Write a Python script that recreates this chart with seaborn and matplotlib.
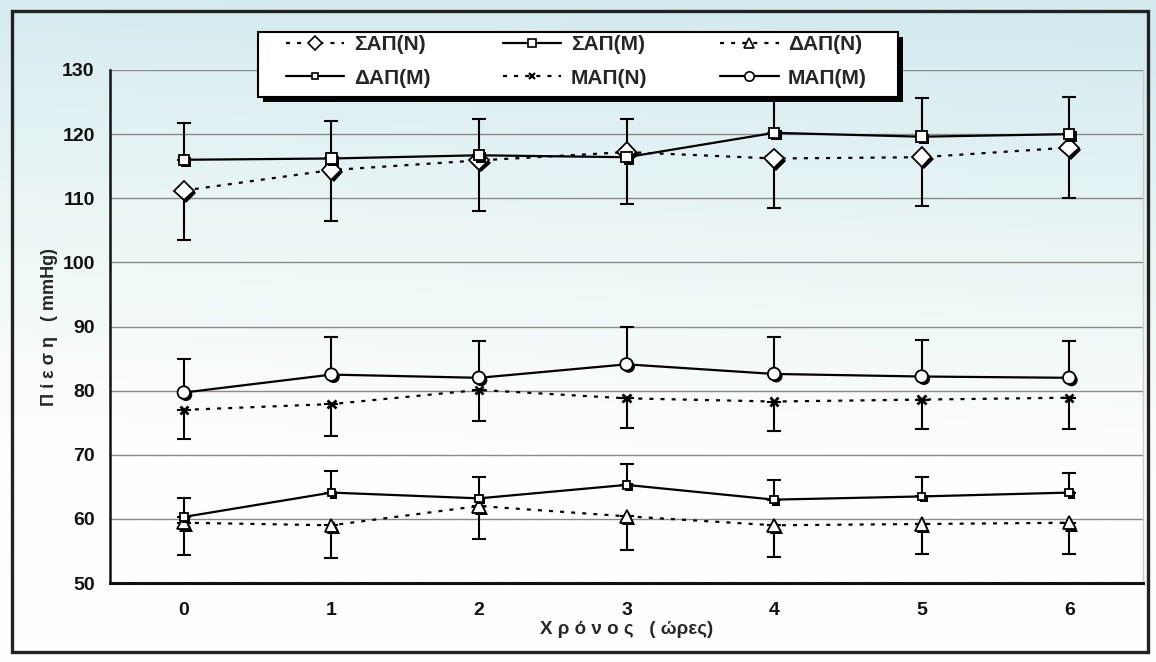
import numpy as np
import pandas as pd
import matplotlib
matplotlib.use("Agg")
import matplotlib.pyplot as plt
import matplotlib.patheffects as pe
from matplotlib.lines import Line2D
from matplotlib.patches import Rectangle
import seaborn as sns

# ---------------- data ----------------
hours = [0, 1, 2, 3, 4, 5, 6]
hour_labels = ["0", "1", "2", "3", "4", "5", "6"]

sap_n = [111.2, 114.4, 115.9, 117.2, 116.2, 116.4, 117.9]
sap_n_err = [7.7, 7.9, 7.9, 8.1, 7.7, 7.6, 7.9]      # lower side
sap_m = [116.0, 116.2, 116.7, 116.4, 120.2, 119.6, 120.0]
sap_m_err = [5.7, 5.8, 5.6, 5.9, 6.0, 6.1, 5.8]      # upper side

dap_n = [59.4, 59.0, 62.0, 60.4, 59.0, 59.2, 59.4]
dap_n_err = [5.0, 5.1, 5.2, 5.2, 5.0, 4.7, 4.9]      # lower side
dap_m = [60.3, 64.1, 63.2, 65.3, 63.0, 63.5, 64.1]
dap_m_err = [2.9, 3.3, 3.4, 3.3, 3.0, 3.1, 3.1]      # upper side

map_n = [77.0, 77.9, 80.1, 78.8, 78.3, 78.6, 78.9]
map_n_err = [4.5, 4.9, 4.9, 4.6, 4.6, 4.6, 4.9]      # lower side
map_m = [79.7, 82.5, 82.0, 84.1, 82.6, 82.2, 82.0]
map_m_err = [5.3, 5.8, 5.7, 5.9, 5.7, 5.7, 5.7]      # upper side

series_names = ["ΣΑΠ(N)", "ΣΑΠ(M)", "ΔΑΠ(N)", "ΔΑΠ(M)", "ΜΑΠ(N)", "ΜΑΠ(M)"]
y_ticks = [50, 60, 70, 80, 90, 100, 110, 120, 130]
x_title = "Χ ρ ό ν ο ς   ( ώρες)"
y_title = "Π ί ε σ η   ( mmHg)"

# ---------------- style ----------------
sns.set_theme(style="white")
plt.rcParams["font.family"] = ["Liberation Sans", "DejaVu Sans"]
plt.rcParams["font.weight"] = "bold"

DOT = (0, (1.8, 3.2))
styles = {
    "ΣΑΠ(N)": dict(ls=DOT, marker="D", ms=10, up=False),
    "ΣΑΠ(M)": dict(ls="-", marker="s", ms=7.5, up=True),
    "ΔΑΠ(N)": dict(ls=DOT, marker="^", ms=9.5, up=False),
    "ΔΑΠ(M)": dict(ls="-", marker="s", ms=5.5, up=True),
    "ΜΑΠ(N)": dict(ls=DOT, marker="x", ms=6, up=False),
    "ΜΑΠ(M)": dict(ls="-", marker="o", ms=9, up=True),
}
values = {
    "ΣΑΠ(N)": (sap_n, sap_n_err), "ΣΑΠ(M)": (sap_m, sap_m_err),
    "ΔΑΠ(N)": (dap_n, dap_n_err), "ΔΑΠ(M)": (dap_m, dap_m_err),
    "ΜΑΠ(N)": (map_n, map_n_err), "ΜΑΠ(M)": (map_m, map_m_err),
}

W, H = 1156, 662
fig = plt.figure(figsize=(W / 100, H / 100), dpi=100)

# background gradient
bg = fig.add_axes([0, 0, 1, 1], zorder=-10)
yy, xx = np.mgrid[0:1:300j, 0:1:300j]
top = np.array([210, 234, 237]) / 255.0
bot = np.array([253, 254, 254]) / 255.0
t = np.clip((yy - 0.04) * 1.45 + 0.12 * (1 - xx), 0, 1) ** 0.85
t = t[..., None]
grad = top * (1 - t) + bot * t
bg.imshow(grad, aspect="auto", extent=[0, 1, 0, 1], origin="upper")
bg.set_axis_off()

ax = fig.add_axes([110 / W, 1 - 583 / H, 1033 / W, 513 / H])
ax.set_facecolor("none")

shadow = [pe.SimplePatchShadow(offset=(1.6, -1.6), shadow_rgbFace="black", alpha=1.0), pe.Normal()]

for name in series_names:
    st = styles[name]
    vals, err = values[name]
    df = pd.DataFrame({"h": hours, "v": vals})
    sns.lineplot(data=df, x="h", y="v", ax=ax, color="black", linewidth=1.6,
                 linestyle=st["ls"], zorder=3, legend=False)
    zeros = [0] * len(err)
    yerr = [zeros, err] if st["up"] else [err, zeros]
    ax.errorbar(hours, vals, yerr=yerr, fmt="none", ecolor="black",
                elinewidth=1.5, capsize=4.8, capthick=1.5, zorder=2)
    sns.lineplot(data=df, x="h", y="v", ax=ax, color="black", linestyle="none",
                 marker=st["marker"], markersize=st["ms"],
                 markerfacecolor="white", markeredgecolor="black",
                 markeredgewidth=2.0 if st["marker"] == "x" else 1.3,
                 zorder=4, legend=False)
    ax.lines[-1].set_path_effects(shadow)

ax.set_xlim(-0.5, 6.5)
ax.set_ylim(50, 130)
ax.set_yticks(y_ticks)
ax.set_yticklabels([str(v) for v in y_ticks], fontsize=14, fontweight="bold")
ax.set_xticks(hours)
ax.set_xticklabels(hour_labels, fontsize=14, fontweight="bold")
ax.set_xticks(np.arange(-0.5, 7.0, 1.0), minor=True)
ax.tick_params(axis="x", which="major", length=0, pad=14, colors="#111")
ax.tick_params(axis="x", which="minor", length=3, width=1.5, direction="out", color="#222")
ax.tick_params(axis="y", which="major", length=5, width=1.3, direction="out", pad=6, colors="#111")
for y in y_ticks[1:]:
    ax.axhline(y, color="#8a8a8a", lw=1.0, zorder=1)

ax.spines["top"].set_visible(False)
ax.spines["right"].set_color("#cccccc")
ax.spines["right"].set_linewidth(1.0)
ax.spines["left"].set_color("#111")
ax.spines["left"].set_linewidth(1.8)
ax.spines["bottom"].set_color("#111")
ax.spines["bottom"].set_linewidth(2.2)

ax.set_xlabel(x_title, fontsize=13.5, fontweight="bold", labelpad=1)
ax.set_ylabel(y_title, fontsize=13, fontweight="bold", labelpad=3)

# legend frame + shadow (drawn manually)
lx0, lx1, ly0, ly1 = 258, 898, 32, 97
fig.patches.append(Rectangle(((lx0 + 5) / W, 1 - (ly1 + 5) / H), (lx1 - lx0) / W, (ly1 - ly0) / H,
                             transform=fig.transFigure, facecolor="black",
                             edgecolor="black", linewidth=0, zorder=6))
fig.patches.append(Rectangle((lx0 / W, 1 - ly1 / H), (lx1 - lx0) / W, (ly1 - ly0) / H,
                             transform=fig.transFigure, facecolor="white",
                             edgecolor="black", linewidth=1.5, zorder=7))

order = ["ΣΑΠ(N)", "ΔΑΠ(M)", "ΣΑΠ(M)", "ΜΑΠ(N)", "ΔΑΠ(N)", "ΜΑΠ(M)"]
handles = []
for name in order:
    st = styles[name]
    handles.append(Line2D([0], [0], color="black", lw=1.6, linestyle=st["ls"],
                          marker=st["marker"], markersize=st["ms"] * 0.75,
                          markerfacecolor="white", markeredgecolor="black",
                          markeredgewidth=1.6 if st["marker"] == "x" else 1.2))
leg = fig.legend(handles, order, loc="upper left",
                 bbox_to_anchor=(286 / W, 1 - 35 / H),
                 bbox_transform=fig.transFigure, ncol=3,
                 frameon=False, borderaxespad=0, borderpad=0,
                 labelspacing=0.7, columnspacing=3.5,
                 handlelength=2.8, handletextpad=0.45,
                 prop={"weight": "bold", "size": 15})
leg.set_zorder(8)

# outer frame
fig.patches.append(Rectangle((12 / W, 1 - 652 / H), 1136 / W, 641 / H,
                             transform=fig.transFigure, fill=False,
                             edgecolor="#222", linewidth=2.4, zorder=5))

fig.savefig("out.png", dpi=100)
